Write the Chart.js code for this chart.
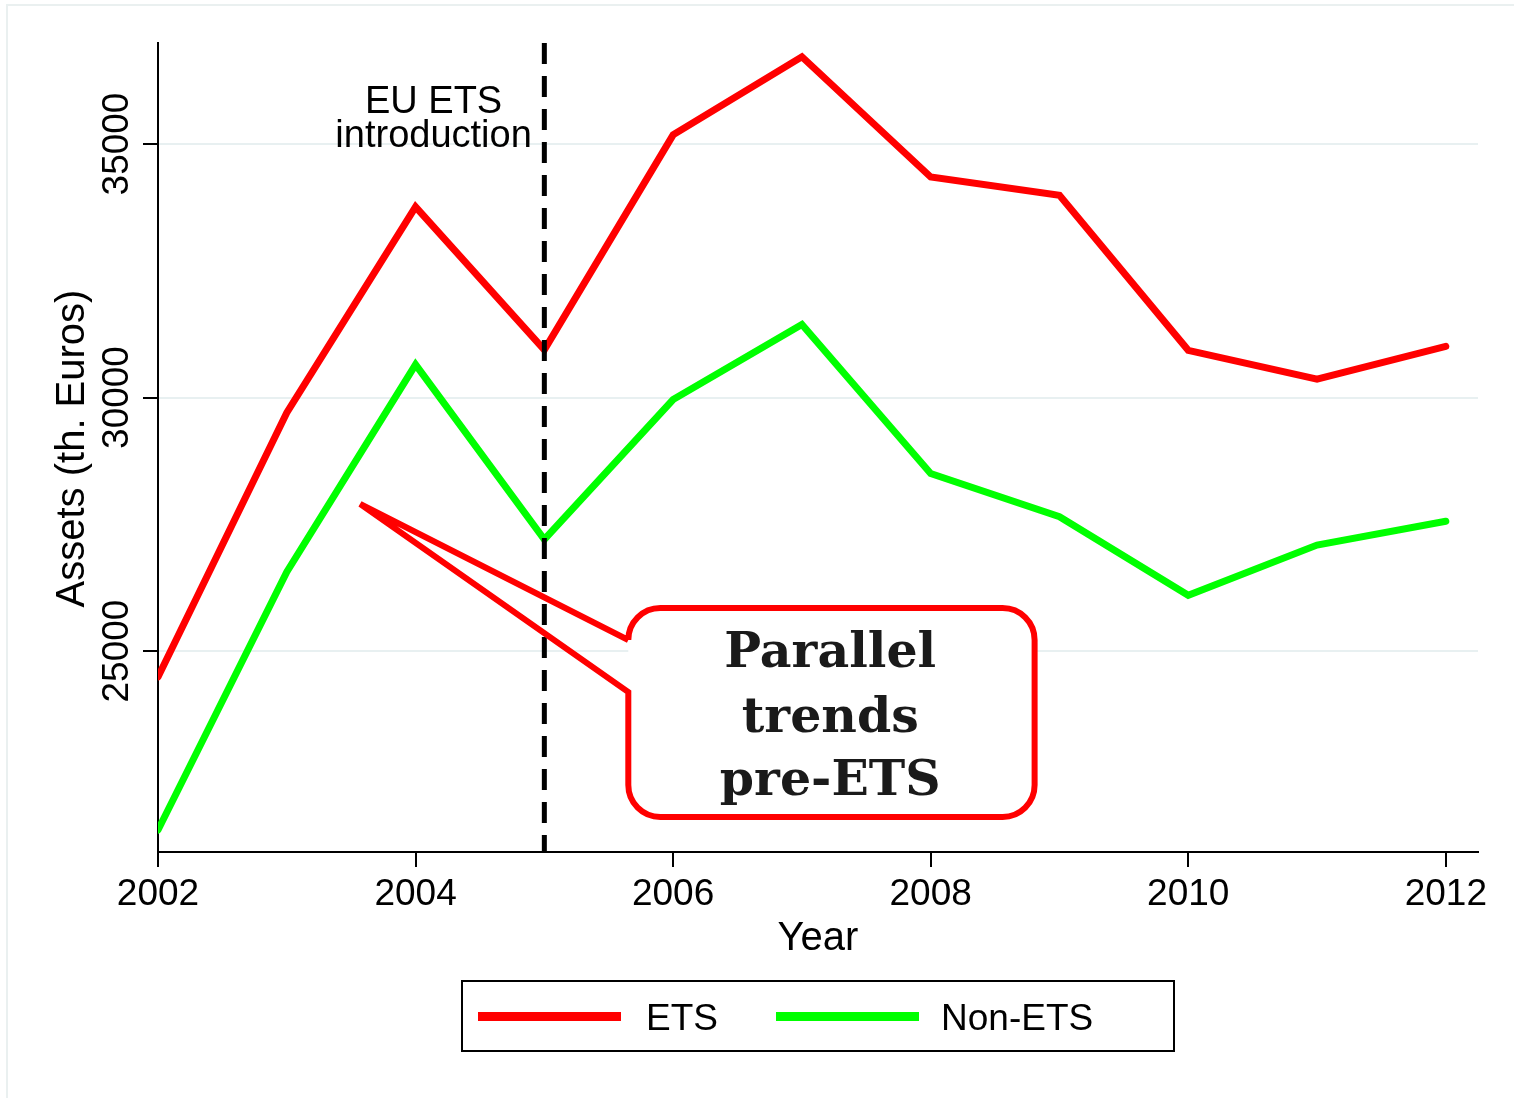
<!DOCTYPE html>
<html>
<head>
<meta charset="utf-8">
<title>Assets ETS vs Non-ETS</title>
<script src="https://cdn.jsdelivr.net/npm/chart.js@4.4.0/dist/chart.umd.min.js"></script>
<style>
  html, body { margin: 0; padding: 0; background: #fff; }
  canvas { display: block; }
</style>
</head>
<body>
<canvas id="assetsChart" width="1514" height="1098"></canvas>
<script>
// values (th. Euros)
const years = [2002, 2003, 2004, 2005, 2006, 2007, 2008, 2009, 2010, 2011, 2012];
const etsAssets = [24490, 29700, 33760, 30940, 35180, 36720, 34350, 33990, 30930, 30360, 31010];
const nonEtsAssets = [21470, 26560, 30650, 27200, 29960, 31440, 28500, 27650, 26100, 27090, 27560];
const seriesLabels = ['ETS', 'Non-ETS'];
const seriesColors = ['#ff0000', '#00ff00'];

const xTicks = [2002, 2004, 2006, 2008, 2010, 2012];
const yTicks = [25000, 30000, 35000];

const etsStartYear = 2005;
const noteLines = ['EU ETS', 'introduction'];
const calloutLines = ['Parallel', 'trends', 'pre-ETS'];

const sans = "'Liberation Sans', Arial, Helvetica, sans-serif";
const serif = "'DejaVu Serif', 'Liberation Serif', serif";

function toPoints(vals) {
    return years.map((yr, i) => ({ x: yr, y: vals[i] }));
}

const stataExtras = {
    id: 'stataExtras',
    beforeDraw(chart) {
        const ctx = chart.ctx;
        ctx.save();
        ctx.fillStyle = '#fff';
        ctx.fillRect(0, 0, chart.width, chart.height);
        // faint outer graph region
        ctx.strokeStyle = '#eaf0f0';
        ctx.lineWidth = 2;
        ctx.strokeRect(7, 5, chart.width + 20, chart.height + 20);
        ctx.restore();
    },
    afterDatasetsDraw(chart) {
        const ctx = chart.ctx;
        const xs = chart.scales.x, ys = chart.scales.y;
        const area = chart.chartArea;
        ctx.save();

        // vertical dashed line at ETS introduction
        const dx = xs.getPixelForValue(etsStartYear);
        ctx.strokeStyle = '#000';
        ctx.lineWidth = 5;
        ctx.setLineDash([21, 12]);
        ctx.beginPath();
        ctx.moveTo(dx, area.top);
        ctx.lineTo(dx, area.bottom);
        ctx.stroke();
        ctx.setLineDash([]);

        // note text
        ctx.fillStyle = '#000';
        ctx.font = '38px ' + sans;
        ctx.textAlign = 'center';
        ctx.textBaseline = 'alphabetic';
        const nx = xs.getPixelForValue(2004.14);
        ctx.fillText(noteLines[0], nx, area.top + 70);
        ctx.fillText(noteLines[1], nx, area.top + 104);

        // callout box
        const left = xs.getPixelForValue(2005.652);
        const right = xs.getPixelForValue(2008.807);
        const top = ys.getPixelForValue(25848);
        const bottom = ys.getPixelForValue(21726);
        const tipX = xs.getPixelForValue(2003.57);
        const tipY = ys.getPixelForValue(27900);
        const baseA = ys.getPixelForValue(25217);
        const baseB = ys.getPixelForValue(24191);
        const r = 32;

        ctx.beginPath();
        ctx.roundRect(left, top, right - left, bottom - top, r);
        ctx.fillStyle = '#fff';
        ctx.fill();

        ctx.beginPath();
        ctx.moveTo(left, baseA);
        ctx.lineTo(left, top + r);
        ctx.arcTo(left, top, left + r, top, r);
        ctx.lineTo(right - r, top);
        ctx.arcTo(right, top, right, top + r, r);
        ctx.lineTo(right, bottom - r);
        ctx.arcTo(right, bottom, right - r, bottom, r);
        ctx.lineTo(left + r, bottom);
        ctx.arcTo(left, bottom, left, bottom - r, r);
        ctx.lineTo(left, baseB);
        ctx.lineTo(tipX, tipY);
        ctx.lineTo(left, baseA);
        ctx.strokeStyle = '#ff0000';
        ctx.lineWidth = 6;
        ctx.lineJoin = 'miter';
        ctx.stroke();

        ctx.fillStyle = '#1a1a1a';
        ctx.font = 'bold 49px ' + serif;
        ctx.textAlign = 'center';
        const cx = xs.getPixelForValue(2007.22);
        ctx.fillText(calloutLines[0], cx, top + 59);
        ctx.fillText(calloutLines[1], cx, top + 124);
        ctx.fillText(calloutLines[2], cx, top + 187);

        ctx.restore();
    },
    afterDraw(chart) {
        const ctx = chart.ctx;
        const xs = chart.scales.x, ys = chart.scales.y;
        const area = chart.chartArea;
        ctx.save();
        ctx.fillStyle = '#000';

        // x tick labels
        ctx.font = '37px ' + sans;
        ctx.textAlign = 'center';
        ctx.textBaseline = 'alphabetic';
        xTicks.forEach(v => ctx.fillText(String(v), xs.getPixelForValue(v), area.bottom + 53));

        // y tick labels, rotated
        yTicks.forEach(v => {
            ctx.save();
            ctx.translate(area.left - 30, ys.getPixelForValue(v));
            ctx.rotate(-Math.PI / 2);
            ctx.fillText(String(v), 0, 0);
            ctx.restore();
        });

        // axis titles
        ctx.font = '40px ' + sans;
        ctx.fillText('Year', (area.left + area.right) / 2, area.bottom + 98);
        ctx.save();
        ctx.translate(area.left - 74, (area.top + area.bottom) / 2 + 1);
        ctx.rotate(-Math.PI / 2);
        ctx.fillText('Assets (th. Euros)', 0, 0);
        ctx.restore();

        // legend
        const lx = 462, ly = 981, lw = 712, lh = 70;
        ctx.strokeStyle = '#000';
        ctx.lineWidth = 2;
        ctx.strokeRect(lx, ly, lw, lh);
        const keyStarts = [478, 776];
        const textStarts = [646, 941];
        ctx.font = '37px ' + sans;
        ctx.textAlign = 'left';
        chart.data.datasets.forEach((ds, i) => {
            ctx.fillStyle = ds.borderColor;
            ctx.fillRect(keyStarts[i], 1012, 143, 9);
            ctx.fillStyle = '#000';
            ctx.fillText(ds.label, textStarts[i], 1030);
        });

        ctx.restore();
    }
};

new Chart(document.getElementById('assetsChart'), {
    type: 'line',
    data: {
        datasets: [
            {
                label: seriesLabels[0],
                data: toPoints(etsAssets),
                borderColor: seriesColors[0],
                backgroundColor: seriesColors[0],
                borderWidth: 7,
                borderCapStyle: 'round',
                pointRadius: 0,
                tension: 0,
                fill: false
            },
            {
                label: seriesLabels[1],
                data: toPoints(nonEtsAssets),
                borderColor: seriesColors[1],
                backgroundColor: seriesColors[1],
                borderWidth: 7,
                borderCapStyle: 'round',
                pointRadius: 0,
                tension: 0,
                fill: false
            }
        ]
    },
    options: {
        responsive: false,
        animation: false,
        devicePixelRatio: 1,
        layout: {
            autoPadding: false,
            padding: { left: 143, right: 36, top: 43, bottom: 231 }
        },
        plugins: {
            legend: { display: false },
            tooltip: { enabled: false }
        },
        scales: {
            x: {
                type: 'linear',
                min: 2002,
                max: 2012.25,
                afterBuildTicks: s => { s.ticks = xTicks.map(v => ({ value: v })); },
                ticks: { display: false },
                grid: { display: true, drawOnChartArea: false, drawTicks: true, tickLength: 15, tickColor: '#000', tickWidth: 2, lineWidth: 2 },
                border: { display: true, color: '#000', width: 2 }
            },
            y: {
                type: 'linear',
                min: 21036,
                max: 36992,
                afterBuildTicks: s => { s.ticks = yTicks.map(v => ({ value: v })); },
                ticks: { display: false },
                grid: { color: '#e8f0f1', lineWidth: 2, drawTicks: true, tickLength: 15, tickColor: '#000', tickWidth: 2 },
                border: { display: true, color: '#000', width: 2 }
            }
        }
    },
    plugins: [stataExtras]
});
</script>
</body>
</html>
